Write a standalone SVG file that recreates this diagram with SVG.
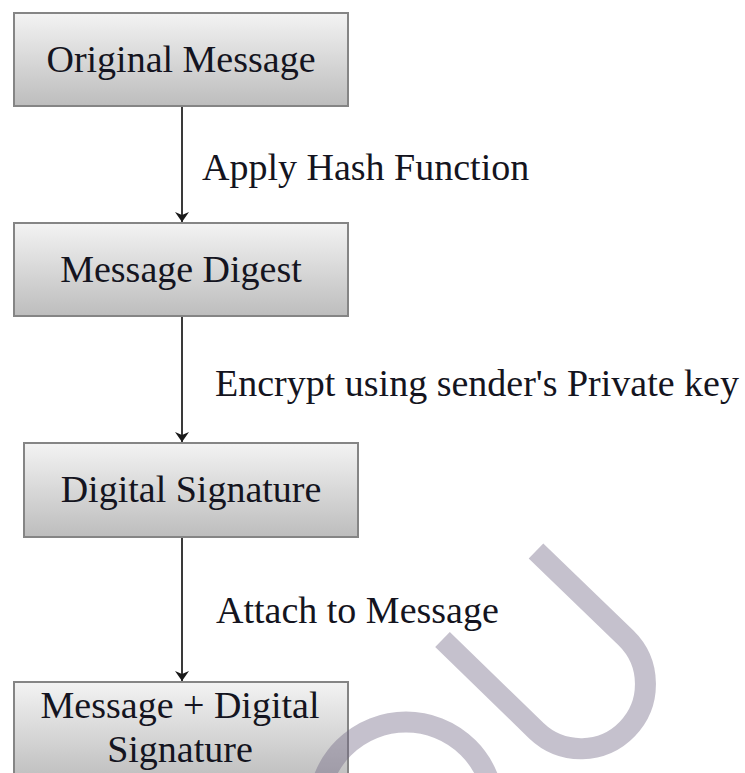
<svg xmlns="http://www.w3.org/2000/svg" width="745" height="773" viewBox="0 0 745 773">
  <defs>
    <linearGradient id="boxFill" x1="0" y1="0" x2="0" y2="1">
      <stop offset="0" stop-color="#f3f3f3"/>
      <stop offset="1" stop-color="#bdbdbd"/>
    </linearGradient>
    <!-- notched arrowhead; x axis is the direction of travel -->
    <marker id="arrow" viewBox="0 0 12 14" refX="11" refY="7" markerWidth="12" markerHeight="14" markerUnits="userSpaceOnUse" orient="auto">
      <path d="M1,0 L4,7 L1,14 L11,7 Z" fill="#1a1a1a"/>
    </marker>
    <style>
      .box { fill: url(#boxFill); stroke: #858585; stroke-width: 2; }
      .node-text { font-family: "Liberation Serif", "Times New Roman", serif; font-size: 38px; fill: #141420; text-anchor: middle; }
      .label { font-family: "Liberation Serif", "Times New Roman", serif; font-size: 38px; fill: #141420; }
      .link { stroke: #3a3a3a; stroke-width: 2; fill: none; }
      .mark { fill: none; stroke: #6e6482; stroke-opacity: 0.4; stroke-width: 21; }
    </style>
  </defs>

  <rect width="745" height="773" fill="#ffffff"/>

  <g id="connectors">
    <line class="link" x1="182" y1="106" x2="182" y2="222" marker-end="url(#arrow)"/>
    <line class="link" x1="182" y1="316" x2="182" y2="442" marker-end="url(#arrow)"/>
    <line class="link" x1="182" y1="537" x2="182" y2="681" marker-end="url(#arrow)"/>
  </g>

  <g id="edge-labels">
    <text class="label" x="202" y="180">Apply Hash Function</text>
    <text class="label" x="215" y="396">Encrypt using sender's Private key</text>
    <text class="label" x="216" y="623">Attach to Message</text>
  </g>

  <g id="node-original">
    <rect class="box" x="14" y="13" width="334" height="93"/>
    <text class="node-text" x="181" y="72">Original Message</text>
  </g>

  <g id="node-digest">
    <rect class="box" x="14" y="223" width="334" height="93"/>
    <text class="node-text" x="181" y="282">Message Digest</text>
  </g>

  <g id="node-signature">
    <rect class="box" x="24" y="443" width="334" height="94"/>
    <text class="node-text" x="191" y="502">Digital Signature</text>
  </g>

  <g id="node-combined">
    <rect class="box" x="14" y="682" width="334" height="100"/>
    <text class="node-text" x="180" y="718">Message + Digital</text>
    <text class="node-text" x="180" y="762">Signature</text>
  </g>

  <!-- faint overlay strokes -->
  <g id="overlay">
    <path class="mark" d="M442.5,639.5 L536.5,730.9 A64.5,64.5 0 0 0 626.1,638.1 L536,551"/>
    <circle class="mark" cx="406" cy="810" r="88"/>
  </g>
</svg>
